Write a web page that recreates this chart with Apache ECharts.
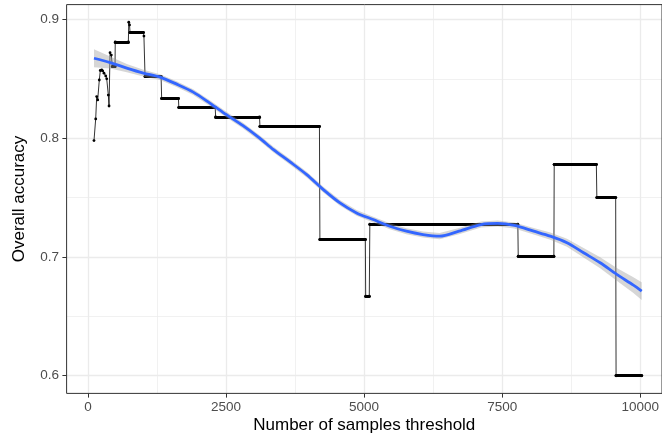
<!DOCTYPE html>
<html>
<head>
<meta charset="utf-8">
<script src="https://cdn.jsdelivr.net/npm/echarts@6/dist/echarts.min.js"></script>
<style>
  html, body { margin: 0; padding: 0; background: #fff; }
  #chart { width: 662px; height: 439px; }
</style>
</head>
<body>
<div id="chart"></div>
<script>
// overall accuracy per threshold (vertices of the black line)
const accX = [108, 139, 157, 175, 204, 222, 247, 265, 289, 320, 338, 367, 380, 398, 421, 440, 488, 492, 729, 736,
  750, 759, 1000, 1010, 1030, 1320, 1330, 1633, 1640, 2297, 2305, 3098, 3105, 4180, 4188, 5009, 5015, 5080, 5090,
  7763, 7770, 8414, 8420, 9181, 9190, 9530, 9537, 10000];
const accY = [0.798, 0.8162, 0.835, 0.8322, 0.849, 0.857, 0.8575, 0.8566, 0.8547, 0.8524, 0.850, 0.8363, 0.8271,
  0.872, 0.870, 0.8602, 0.8602, 0.881, 0.881, 0.8976, 0.8954, 0.889, 0.889, 0.886, 0.852, 0.852, 0.8335, 0.8335,
  0.826, 0.826, 0.818, 0.818, 0.810, 0.810, 0.7147, 0.7147, 0.667, 0.667, 0.7276, 0.7276, 0.7007, 0.7007,
  0.778, 0.778, 0.750, 0.750, 0.600, 0.600];

// flat runs where the points are packed together (drawn thick)
const platStart = [440, 492, 759, 1030, 1330, 1640, 2305, 3105, 4188, 5015, 5090, 7770, 8420, 9190, 9537];
const platEnd   = [488, 729, 1000, 1320, 1633, 2297, 3098, 4180, 5009, 5080, 7763, 8414, 9181, 9530, 10000];
const platY     = [0.8602, 0.881, 0.889, 0.852, 0.8335, 0.826, 0.818, 0.810, 0.7147, 0.667, 0.7276, 0.7007,
  0.778, 0.750, 0.600];

// loess fit and half width of its band
const fitX = [108, 400, 700, 1000, 1300, 1600, 1900, 2200, 2500, 2800, 3100, 3350, 3650, 3950, 4250, 4550, 4850,
  5150, 5450, 5750, 6050, 6350, 6700, 7100, 7400, 7700, 8050, 8350, 8650, 8950, 9250, 9550, 9850, 10000];
const fitY = [0.8673, 0.8637, 0.859, 0.8548, 0.8514, 0.8455, 0.8388, 0.8296, 0.8198, 0.8105, 0.800, 0.7903,
  0.780, 0.7693, 0.7567, 0.7455, 0.7371, 0.7315, 0.7259, 0.7217, 0.7189, 0.7175, 0.7217, 0.7273, 0.7282,
  0.7265, 0.7217, 0.7175, 0.712, 0.7035, 0.6951, 0.6853, 0.6763, 0.6713];
const fitSE = [0.0076, 0.005, 0.0035, 0.0028, 0.0025, 0.0024, 0.0024, 0.0024, 0.0024, 0.0024, 0.0024, 0.0024,
  0.0024, 0.0024, 0.0024, 0.0024, 0.0024, 0.0024, 0.0025, 0.0025, 0.0026, 0.0026, 0.0026, 0.0026, 0.0026,
  0.0026, 0.0027, 0.003, 0.0034, 0.004, 0.0046, 0.0054, 0.0066, 0.0075];

const font = 'Liberation Sans, Arial, sans-serif';
const gridCol = '#ebebeb';
const inkCol = '#333333';

let chart = echarts.init(document.getElementById('chart'));

let option = {
  animation: false,
  backgroundColor: '#ffffff',
  grid: [
    // panel (data + border); right side runs off the picture
    { left: 66.6, right: 0, top: 4.6, bottom: 45.6, show: true, borderColor: inkCol, borderWidth: 1,
      backgroundColor: 'transparent', z: 1 },
    // vertical grid lines and x labels
    { left: 88, right: 20.3, top: 4.6, bottom: 45.6 },
    // horizontal grid lines and y labels
    { left: 66.6, right: 0, top: 19.4, bottom: 63.3 }
  ],
  xAxis: [
    { type: 'value', gridIndex: 0, min: -386.6, max: 10366.6,
      axisLine: {show: false}, axisTick: {show: false}, axisLabel: {show: false}, splitLine: {show: false},
      name: 'Number of samples threshold', nameLocation: 'middle', nameGap: 23,
      nameTextStyle: {color: '#000', fontSize: 17, fontFamily: font} },
    { type: 'value', gridIndex: 1, min: 0, max: 10000, interval: 2500,
      axisLine: {show: false},
      axisTick: {show: true, length: 4.2, lineStyle: {color: inkCol, width: 1}},
      axisLabel: {color: '#4d4d4d', fontSize: 13.5, fontFamily: font, margin: 7,
        formatter: function (v) { return String(v) }},
      splitLine: {show: true, lineStyle: {color: gridCol, width: 1.3}},
      minorTick: {show: false, splitNumber: 2},
      minorSplitLine: {show: true, lineStyle: {color: gridCol, width: 0.7}} },
    { type: 'value', gridIndex: 2, show: false }
  ],
  yAxis: [
    { type: 'value', gridIndex: 0, min: 0.58512, max: 0.91248,
      axisLine: {show: false}, axisTick: {show: false}, axisLabel: {show: false}, splitLine: {show: false},
      name: 'Overall accuracy', nameLocation: 'middle', nameGap: 39,
      nameTextStyle: {color: '#000', fontSize: 17, fontFamily: font} },
    { type: 'value', gridIndex: 1, show: false },
    { type: 'value', gridIndex: 2, min: 0.6, max: 0.9, interval: 0.1,
      axisLine: {show: false},
      axisTick: {show: true, length: 4.2, lineStyle: {color: inkCol, width: 1}},
      axisLabel: {color: '#4d4d4d', fontSize: 13.5, fontFamily: font, margin: 7.5,
        formatter: function (v) { return v.toFixed(1) }},
      splitLine: {show: true, lineStyle: {color: gridCol, width: 1.3}},
      minorTick: {show: false, splitNumber: 2},
      minorSplitLine: {show: true, lineStyle: {color: gridCol, width: 0.7}} }
  ],
  series: [
    {
      name: 'accuracy',
      type: 'line',
      xAxisIndex: 0, yAxisIndex: 0,
      data: accX.map(function (x, i) { return [x, accY[i]] }),
      symbol: 'circle',
      symbolSize: 2.8,
      showAllSymbol: true,
      itemStyle: {color: '#000'},
      lineStyle: {color: '#000', width: 0.8},
      silent: true,
      z: 2
    },
    {
      name: 'runs',
      type: 'lines',
      coordinateSystem: 'cartesian2d',
      xAxisIndex: 0, yAxisIndex: 0,
      data: platStart.map(function (s, i) {
        return {coords: [[s, platY[i]], [platEnd[i], platY[i]]]}
      }),
      lineStyle: {color: '#000', width: 3, opacity: 1, cap: 'round'},
      silent: true,
      z: 2
    },
    {
      name: 'band',
      type: 'custom',
      xAxisIndex: 0, yAxisIndex: 0,
      data: [[fitX[0], fitY[0]]],
      renderItem: function (params, api) {
        let pts = [];
        for (let i = 0; i < fitX.length; i++) pts.push(api.coord([fitX[i], fitY[i] + fitSE[i]]));
        for (let i = fitX.length - 1; i >= 0; i--) pts.push(api.coord([fitX[i], fitY[i] - fitSE[i]]));
        return {type: 'polygon', shape: {points: pts}, style: {fill: 'rgba(153,153,153,0.4)'}};
      },
      silent: true,
      z: 3
    },
    {
      name: 'loess',
      type: 'line',
      xAxisIndex: 0, yAxisIndex: 0,
      data: fitX.map(function (x, i) { return [x, fitY[i]] }),
      smooth: 0.3,
      showSymbol: false,
      lineStyle: {color: '#3366FF', width: 2.8},
      silent: true,
      z: 4
    }
  ]
};

chart.setOption(option);
</script>
</body>
</html>
